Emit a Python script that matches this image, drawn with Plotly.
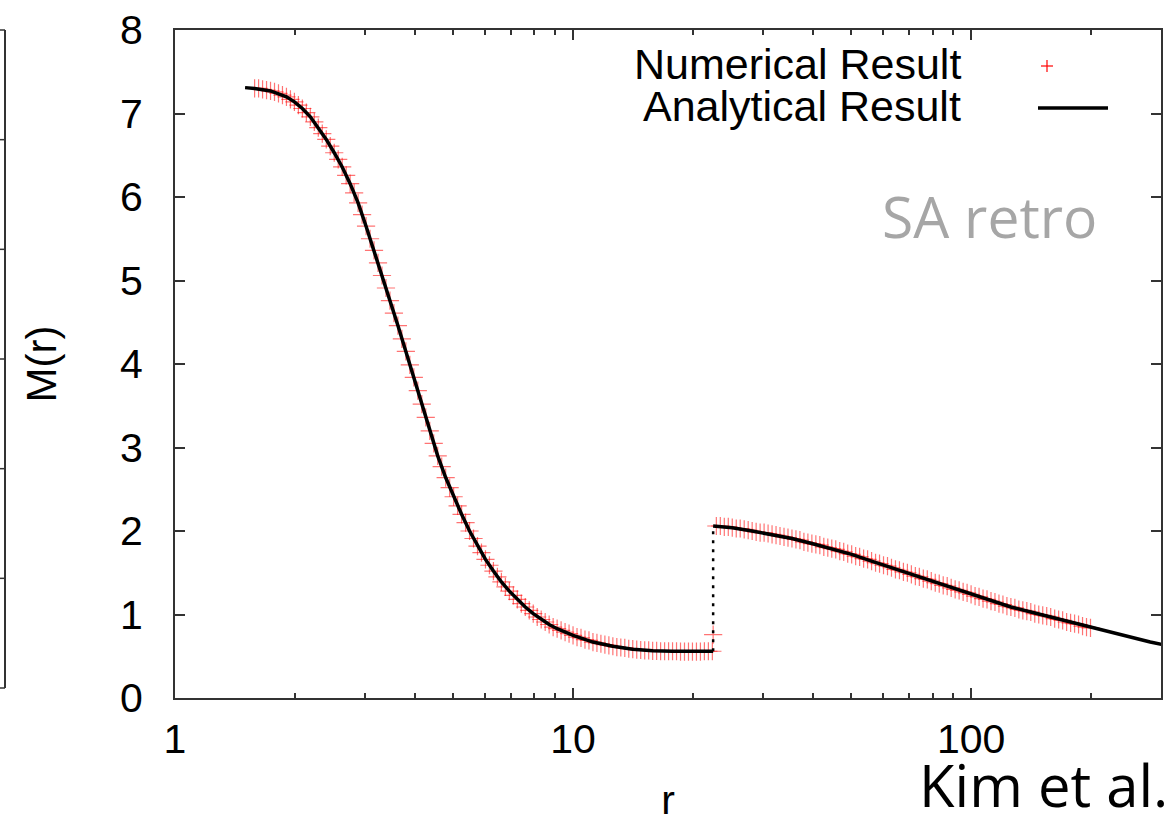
import numpy as np
import plotly.graph_objects as go

# ---------------- data ----------------
# Numerical result: log10(r) grid and M(r)
num_log_r = [
    0.20, 0.21, 0.22, 0.23, 0.24, 0.25, 0.26, 0.27, 0.28, 0.29,
    0.30, 0.31, 0.32, 0.33, 0.34, 0.35, 0.36, 0.37, 0.38, 0.39,
    0.40, 0.41, 0.42, 0.43, 0.44, 0.45, 0.46, 0.47, 0.48, 0.49,
    0.50, 0.51, 0.52, 0.53, 0.54, 0.55, 0.56, 0.57, 0.58, 0.59,
    0.60, 0.61, 0.62, 0.63, 0.64, 0.65, 0.66, 0.67, 0.68, 0.69,
    0.70, 0.71, 0.72, 0.73, 0.74, 0.75, 0.76, 0.77, 0.78, 0.79,
    0.80, 0.81, 0.82, 0.83, 0.84, 0.85, 0.86, 0.87, 0.88, 0.89,
    0.90, 0.91, 0.92, 0.93, 0.94, 0.95, 0.96, 0.97, 0.98, 0.99,
    1.00, 1.01, 1.02, 1.03, 1.04, 1.05, 1.06, 1.07, 1.08, 1.09,
    1.10, 1.11, 1.12, 1.13, 1.14, 1.15, 1.16, 1.17, 1.18, 1.19,
    1.20, 1.21, 1.22, 1.23, 1.24, 1.25, 1.26, 1.27, 1.28, 1.29,
    1.30, 1.31, 1.32, 1.33, 1.34, 1.35,
    1.352,
    1.36, 1.37, 1.38, 1.39,
    1.40, 1.41, 1.42, 1.43, 1.44, 1.45, 1.46, 1.47, 1.48, 1.49,
    1.50, 1.51, 1.52, 1.53, 1.54, 1.55, 1.56, 1.57, 1.58, 1.59,
    1.60, 1.61, 1.62, 1.63, 1.64, 1.65, 1.66, 1.67, 1.68, 1.69,
    1.70, 1.71, 1.72, 1.73, 1.74, 1.75, 1.76, 1.77, 1.78, 1.79,
    1.80, 1.81, 1.82, 1.83, 1.84, 1.85, 1.86, 1.87, 1.88, 1.89,
    1.90, 1.91, 1.92, 1.93, 1.94, 1.95, 1.96, 1.97, 1.98, 1.99,
    2.00, 2.01, 2.02, 2.03, 2.04, 2.05, 2.06, 2.07, 2.08, 2.09,
    2.10, 2.11, 2.12, 2.13, 2.14, 2.15, 2.16, 2.17, 2.18, 2.19,
    2.20, 2.21, 2.22, 2.23, 2.24, 2.25, 2.26, 2.27, 2.28, 2.29,
    2.30,
]
num_M = [
    7.30, 7.30, 7.29, 7.28, 7.27, 7.26, 7.24, 7.22, 7.20, 7.17,
    7.14, 7.10, 7.06, 7.01, 6.96, 6.90, 6.83, 6.76, 6.69, 6.61,
    6.53, 6.45, 6.36, 6.26, 6.16, 6.05, 5.93, 5.79, 5.65, 5.50,
    5.36, 5.21, 5.06, 4.91, 4.76, 4.61, 4.46, 4.30, 4.15, 3.99,
    3.84, 3.68, 3.52, 3.36, 3.20, 3.05, 2.90, 2.77, 2.64, 2.52,
    2.41, 2.30, 2.20, 2.10, 2.00, 1.91, 1.82, 1.74, 1.66, 1.59,
    1.52, 1.45, 1.39, 1.33, 1.28, 1.23, 1.18, 1.13, 1.09, 1.05,
    1.01, 0.97, 0.94, 0.91, 0.88, 0.85, 0.83, 0.81, 0.79, 0.77,
    0.75, 0.73, 0.72, 0.70, 0.69, 0.67, 0.66, 0.65, 0.64, 0.63,
    0.62, 0.61, 0.605, 0.60, 0.59, 0.585, 0.58, 0.575, 0.57, 0.57,
    0.565, 0.565, 0.56, 0.56, 0.56, 0.56, 0.56, 0.555, 0.555, 0.555,
    0.555, 0.555, 0.555, 0.56, 0.56, 0.56,
    0.76,
    2.06, 2.06, 2.05, 2.05,
    2.04, 2.03, 2.03, 2.02, 2.01, 2.00, 1.99, 1.98, 1.98, 1.97,
    1.96, 1.95, 1.94, 1.93, 1.92, 1.91, 1.90, 1.89, 1.87, 1.86,
    1.85, 1.84, 1.83, 1.81, 1.80, 1.79, 1.78, 1.76, 1.75, 1.73,
    1.72, 1.70, 1.69, 1.67, 1.66, 1.64, 1.62, 1.61, 1.59, 1.58,
    1.56, 1.54, 1.53, 1.51, 1.50, 1.48, 1.46, 1.45, 1.43, 1.42,
    1.40, 1.38, 1.37, 1.35, 1.34, 1.32, 1.30, 1.29, 1.27, 1.26,
    1.24, 1.22, 1.21, 1.19, 1.18, 1.16, 1.15, 1.13, 1.12, 1.10,
    1.09, 1.08, 1.06, 1.05, 1.04, 1.03, 1.01, 1.00, 0.99, 0.98,
    0.97, 0.95, 0.94, 0.93, 0.91, 0.90, 0.89, 0.88, 0.86, 0.85,
    0.84,
]

# Analytical result, inner branch (before the jump) and outer branch (after it)
ana_in_log_r = [0.176, 0.20, 0.24, 0.28, 0.30, 0.32, 0.34, 0.36, 0.38, 0.40,
                0.42, 0.44, 0.46, 0.48, 0.50, 0.52, 0.54, 0.56, 0.58, 0.60,
                0.62, 0.64, 0.66, 0.68, 0.70, 0.72, 0.74, 0.76, 0.78, 0.80,
                0.82, 0.84, 0.86, 0.88, 0.90, 0.92, 0.94, 0.96, 0.98, 1.00,
                1.05, 1.10, 1.15, 1.20, 1.25, 1.30, 1.352]
ana_in_M = [7.31, 7.30, 7.27, 7.20, 7.14, 7.06, 6.96, 6.83, 6.69, 6.53,
            6.36, 6.16, 5.93, 5.65, 5.36, 5.06, 4.76, 4.46, 4.15, 3.84,
            3.52, 3.20, 2.90, 2.64, 2.41, 2.20, 2.00, 1.82, 1.66, 1.52,
            1.39, 1.28, 1.18, 1.09, 1.01, 0.94, 0.88, 0.83, 0.79, 0.75,
            0.67, 0.62, 0.585, 0.565, 0.56, 0.555, 0.56]
ana_out_log_r = [1.352, 1.40, 1.45, 1.50, 1.55, 1.60, 1.65, 1.70, 1.75, 1.80,
                 1.85, 1.90, 1.95, 2.00, 2.05, 2.10, 2.15, 2.20, 2.25, 2.30,
                 2.35, 2.40, 2.45, 2.50]
ana_out_M = [2.06, 2.04, 2.00, 1.96, 1.91, 1.85, 1.79, 1.72, 1.64, 1.56,
             1.48, 1.40, 1.32, 1.24, 1.16, 1.09, 1.03, 0.97, 0.90, 0.84,
             0.79, 0.73, 0.67, 0.62]

x_tickvals = [1, 10, 100]
x_ticktext = ["1", "10", "100"]
x_minorvals = [2, 3, 4, 5, 6, 7, 8, 9, 20, 30, 40, 50, 60, 70, 80, 90, 200, 300]
y_tickvals = [0, 1, 2, 3, 4, 5, 6, 7, 8]
x_range_r = [1, 300]
y_range = [0, 8]

# neighbouring panel at the left edge: its (unlabelled) y ticks, 0..6
left_panel_ticks = [1, 2, 3, 4, 5]
left_panel_range = [0, 6]

legend_labels = ["Numerical Result", "Analytical Result"]

# ---------------- figure ----------------
num_r = 10 ** np.array(num_log_r)
ana_r = list(10 ** np.array(ana_in_log_r)) + [None] + list(10 ** np.array(ana_out_log_r))
ana_M = ana_in_M + [None] + ana_out_M
jump_r = [10 ** ana_in_log_r[-1], 10 ** ana_out_log_r[0]]
jump_M = [ana_in_M[-1], ana_out_M[0]]

AX = "#333333"
FONT = "Liberation Sans, Arial, Helvetica, sans-serif"

fig = go.Figure()
fig.add_trace(go.Scatter(
    x=num_r, y=num_M, mode="markers", name=legend_labels[0],
    marker=dict(symbol="cross-thin", size=13,
                line=dict(color="rgba(255,0,0,0.55)", width=1.2)),
    showlegend=False))
fig.add_trace(go.Scatter(
    x=ana_r, y=ana_M, mode="lines", name=legend_labels[1],
    line=dict(color="black", width=3.5), connectgaps=False,
    showlegend=False))
fig.add_trace(go.Scatter(
    x=jump_r, y=jump_M, mode="lines", name="jump",
    line=dict(color="black", width=2.5, dash="3px,6px"),
    showlegend=False))

PW = 1161.0   # paper width in px (margin l=0, r=11)
PH = 668.0    # paper height in px (t=30, b=128)
def px(x):
    return x / PW
def py(y):
    return (698 - y) / PH

fig.update_layout(
    width=1172, height=826,
    margin=dict(l=0, r=11, t=30, b=128, autoexpand=False),
    paper_bgcolor="white", plot_bgcolor="white",
    font=dict(family=FONT, size=41, color="black"),
    xaxis=dict(
        type="log", domain=[175 / PW, 1],
        range=[np.log10(x_range_r[0]), np.log10(x_range_r[1])],
        tickmode="array", tickvals=x_tickvals, ticktext=x_ticktext,
        ticks="inside", ticklen=10, tickwidth=1.5, tickcolor=AX,
        minor=dict(tickmode="array", tickvals=x_minorvals, ticks="inside",
                   ticklen=5, tickwidth=1.5, tickcolor=AX),
        showline=True, linecolor=AX, linewidth=2, mirror="ticks",
        showgrid=False, zeroline=False,
        tickfont=dict(size=41), ticklabelstandoff=4,
        title=dict(text="r", font=dict(size=41), standoff=24),
    ),
    yaxis=dict(
        range=y_range, tickmode="array", tickvals=y_tickvals,
        ticks="inside", ticklen=10, tickwidth=1.5, tickcolor=AX,
        showline=True, linecolor=AX, linewidth=2, mirror="ticks",
        showgrid=False, zeroline=False,
        tickfont=dict(size=41), ticklabelstandoff=22,
        title=dict(text="M(r)", font=dict(size=42), standoff=50),
    ),
    showlegend=False,
)

# partial frame of the neighbouring panel at the far left
LP_X = 5       # its right border, px
LP_TOP, LP_BOT = 30, 688
lp_shapes = [
    dict(x0=px(LP_X), x1=px(LP_X), y0=py(LP_TOP), y1=py(LP_BOT)),
    dict(x0=px(0), x1=px(LP_X), y0=py(LP_TOP), y1=py(LP_TOP)),
    dict(x0=px(0), x1=px(LP_X), y0=py(LP_BOT), y1=py(LP_BOT)),
]
for t in left_panel_ticks:
    yy = LP_BOT - (LP_BOT - LP_TOP) * (t - left_panel_range[0]) / (left_panel_range[1] - left_panel_range[0])
    lp_shapes.append(dict(x0=px(0), x1=px(LP_X), y0=py(yy), y1=py(yy)))
for s in lp_shapes:
    fig.add_shape(type="line", xref="paper", yref="paper",
                  line=dict(color=AX, width=2 if s["x0"] == s["x1"] else 1.5), **s)

# legend drawn gnuplot-style: text right-aligned, sample on the right
fig.add_annotation(xref="paper", yref="paper", x=px(963), y=py(64),
                   text=legend_labels[0], showarrow=False, xanchor="right",
                   yanchor="middle", font=dict(family=FONT, size=43, color="black"))
fig.add_annotation(xref="paper", yref="paper", x=px(963), y=py(106),
                   text=legend_labels[1], showarrow=False, xanchor="right",
                   yanchor="middle", font=dict(family=FONT, size=43, color="black"))
fig.add_shape(type="line", xref="paper", yref="paper",
              x0=px(1041), x1=px(1053), y0=py(66), y1=py(66),
              line=dict(color="red", width=1.2))
fig.add_shape(type="line", xref="paper", yref="paper",
              x0=px(1047), x1=px(1047), y0=py(60), y1=py(72),
              line=dict(color="red", width=1.2))
fig.add_shape(type="line", xref="paper", yref="paper",
              x0=px(1038), x1=px(1108), y0=py(108), y1=py(108),
              line=dict(color="black", width=3.5))

fig.add_annotation(xref="paper", yref="paper", x=px(1099), y=py(216),
                   text="SA retro", showarrow=False, xanchor="right",
                   yanchor="middle", font=dict(family="Open Sans", size=57, color="#a6a6a6"))
fig.add_annotation(xref="paper", yref="paper", x=px(1170), y=py(826),
                   text="Kim et al.", showarrow=False, xanchor="right",
                   yanchor="bottom", font=dict(family="Open Sans", size=58, color="black"))

fig.write_html("out.html")
